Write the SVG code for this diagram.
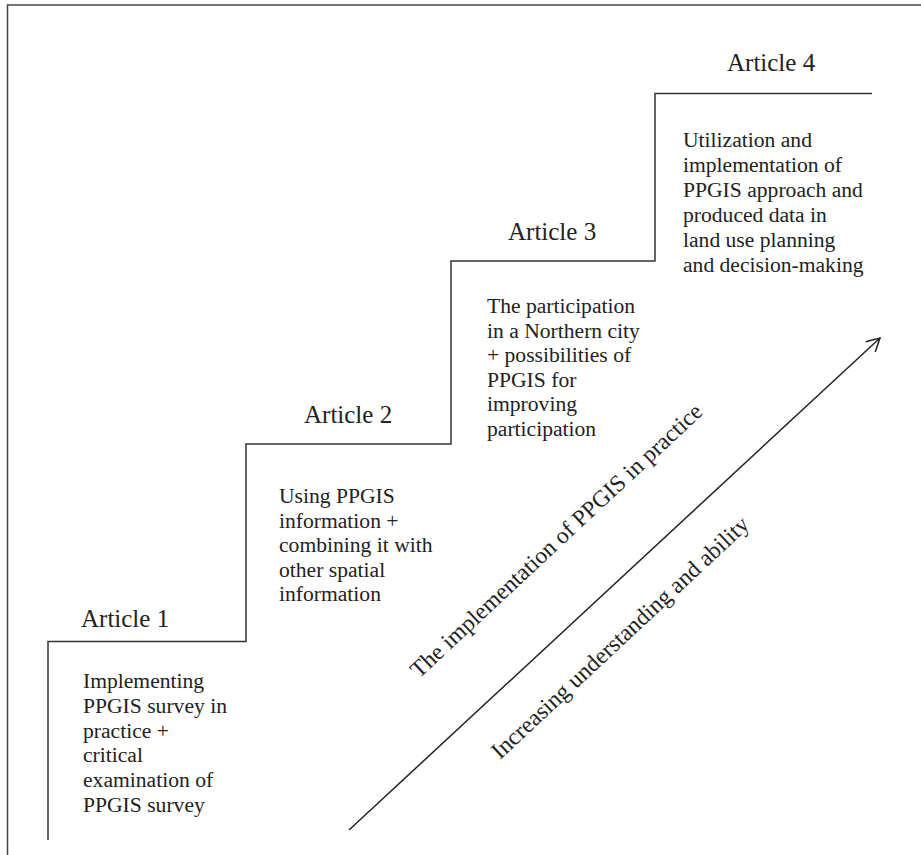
<svg xmlns="http://www.w3.org/2000/svg" width="921" height="855" viewBox="0 0 921 855">
<style>
.frame{fill:none;stroke:#444;stroke-width:1.5}
.step{fill:none;stroke:#333;stroke-width:1.5}
.lab{font-family:"Liberation Serif","Times New Roman",serif;font-size:25px;fill:#222}
.body{font-family:"Liberation Serif","Times New Roman",serif;font-size:21.6px;fill:#222}
.diag{font-family:"Liberation Serif","Times New Roman",serif;font-size:23.5px;fill:#222}
.conn{fill:none;stroke:#222;stroke-width:1.5}
</style>
<defs>
<marker id="open" markerUnits="userSpaceOnUse" markerWidth="20" markerHeight="20" viewBox="-16 -10 18 20" refX="0" refY="0" orient="auto">
<path d="M-13,-7 L0,0 L-13,7" fill="none" stroke="#222" stroke-width="1.5"/>
</marker>
</defs>
<rect width="921" height="855" fill="#fff"/>
<path class="frame" d="M7.5,855 V5 H921"/>
<g id="stairs">
<path class="step" d="M48,840 V641.5 H246 V444 H451 V261 H655 V93.5 H872"/>
</g>
<g id="article1">
<text class="lab" x="81" y="627">Article 1</text>
<text class="body" x="83" y="688">Implementing<tspan x="83" dy="24.8">PPGIS survey in</tspan><tspan x="83" dy="24.8">practice +</tspan><tspan x="83" dy="24.8">critical</tspan><tspan x="83" dy="24.8">examination of</tspan><tspan x="83" dy="24.8">PPGIS survey</tspan></text>
</g>
<g id="article2">
<text class="lab" x="304" y="423">Article 2</text>
<text class="body" x="279" y="503">Using PPGIS<tspan x="279" dy="24.5">information +</tspan><tspan x="279" dy="24.5">combining it with</tspan><tspan x="279" dy="24.5">other spatial</tspan><tspan x="279" dy="24.5">information</tspan></text>
</g>
<g id="article3">
<text class="lab" x="508" y="240">Article 3</text>
<text class="body" x="487" y="313">The participation<tspan x="487" dy="24.5">in a Northern city</tspan><tspan x="487" dy="24.5">+ possibilities of</tspan><tspan x="487" dy="24.5">PPGIS for</tspan><tspan x="487" dy="24.5">improving</tspan><tspan x="487" dy="24.5">participation</tspan></text>
</g>
<g id="article4">
<text class="lab" x="727" y="71">Article 4</text>
<text class="body" x="683" y="147">Utilization and<tspan x="683" dy="25">implementation of</tspan><tspan x="683" dy="25">PPGIS approach and</tspan><tspan x="683" dy="25">produced data in</tspan><tspan x="683" dy="25">land use planning</tspan><tspan x="683" dy="25">and decision-making</tspan></text>
</g>
<g id="connectors">
<line class="conn" x1="349" y1="830" x2="880" y2="338" marker-end="url(#open)"/>
</g>
<g id="arrow-labels">
<text class="diag" transform="translate(419,679) rotate(-43)">The implementation of PPGIS in practice</text>
<text class="diag" transform="translate(500,760) rotate(-43)">Increasing understanding and ability</text>
</g>
</svg>
